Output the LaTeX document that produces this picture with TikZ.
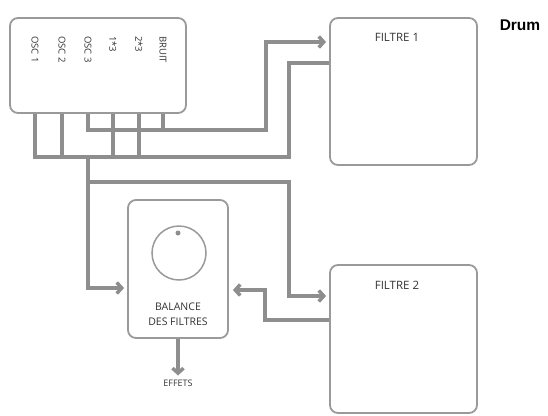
\documentclass[tikz,border=0pt]{standalone}
\usepackage{fontspec}
\setmainfont{Open Sans}
\newfontfamily\drumfont{Liberation Sans}
\usetikzlibrary{arrows.meta}
\definecolor{boxgray}{HTML}{9A9A9A}
\definecolor{wiregray}{HTML}{8E8E8E}
\definecolor{txtgray}{HTML}{333333}
\begin{document}
\begin{tikzpicture}[x=1pt,y=-1pt,
 box/.style={draw=boxgray, line width=1.8pt, rounded corners=8pt, fill=white, inner sep=0pt},
 wire/.style={draw=wiregray, line width=3.5pt},
 arr/.style={wire, -{Straight Barb[length=5pt,width=11pt]}},
 lbl/.style={text=txtgray, font=\fontsize{9.5}{11}\selectfont, inner sep=0pt},
]
\useasboundingbox (0,0) rectangle (548,415);
% boxes
\node[box, minimum width=176pt, minimum height=95pt] (src) at (98,65.5) {};
\node[box, minimum width=147pt, minimum height=147pt] (f1) at (403.5,91.5) {};
\node[box, minimum width=147pt, minimum height=148pt] (f2) at (403.5,339) {};
\node[box, minimum width=100pt, minimum height=138pt] (bal) at (178,269) {};
% source labels
\node[lbl, rotate=-90, anchor=west] (l1) at (35,36) {OSC 1};
\node[lbl, rotate=-90, anchor=west] (l2) at (62,36) {OSC 2};
\node[lbl, rotate=-90, anchor=west] (l3) at (88,36) {OSC 3};
\node[lbl, rotate=-90, anchor=west] (l4) at (113,36) {1*3};
\node[lbl, rotate=-90, anchor=west] (l5) at (139,36) {2*3};
\node[lbl, rotate=-90, anchor=west] (l6) at (163,36) {BRUIT};
% other labels
\node[lbl, font=\fontsize{11.5}{13}\selectfont] (t1) at (397,37) {FILTRE 1};
\node[lbl, font=\fontsize{11.5}{13}\selectfont] (t2) at (397,285) {FILTRE 2};
\node[lbl, align=center, font=\fontsize{10.5}{15}\selectfont] (tb) at (178,314) {BALANCE\\DES FILTRES};
\node[lbl, inner sep=2pt, font=\fontsize{9}{10}\selectfont] (eff) at (178,383) {EFFETS};
\node[text=black, font=\drumfont\bfseries\fontsize{15.5}{17}\selectfont] (drum) at (520,25) {Drum};
% knob
\node[draw=boxgray, line width=1.5pt, circle, minimum size=54pt, inner sep=0pt] (knob) at (179,253) {};
\node[circle, fill=wiregray, minimum size=5pt, inner sep=0pt] (dot) at (178,233) {};
% junction coordinates
\coordinate (jL) at (289,157);
\coordinate (jU) at (266,130);
\coordinate (jA) at (266,42);
\coordinate (jB) at (289,63);
\coordinate (jE) at (88,288);
\coordinate (jF) at (88,182);
\coordinate (jG) at (289,182);
\coordinate (jH) at (289,296);
\coordinate (jK) at (265,320);
\coordinate (jM) at (265,290);
% wires
\draw[wire] (src.south -| l1) -- (l1 |- jL) -- (jL) -- (jB) -- (jB -| f1.west);
\draw[wire] (src.south -| l2) -- (l2 |- jL);
\draw[wire] (src.south -| l4) -- (l4 |- jL);
\draw[wire] (src.south -| l5) -- (l5 |- jL);
\draw[arr, shorten >=3pt] (src.south -| l3) -- (l3 |- jU) -- (jU) -- (jA) -- (jA -| f1.west);
\draw[wire] (src.south -| l6) -- (l6 |- jU);
\draw[arr, shorten >=3pt] (l3 |- jL) -- (jE) -- (jE -| bal.west);
\draw[arr, shorten >=3pt] (jF) -- (jG) -- (jH) -- (jH -| f2.west);
\draw[arr, shorten >=4pt] (jK -| f2.west) -- (jK) -- (jM) -- (jM -| bal.east);
\draw[arr, shorten >=2pt] (bal.south) -- (eff.north);
\end{tikzpicture}
\end{document}
